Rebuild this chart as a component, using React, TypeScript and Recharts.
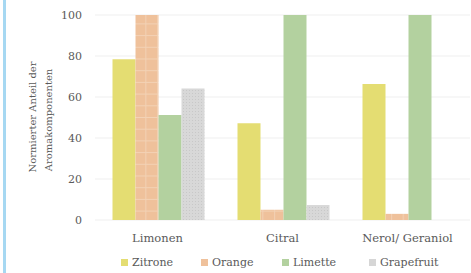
import React from "react";
import { BarChart, Bar, XAxis, YAxis, CartesianGrid } from "recharts";

const categories = ["Limonen", "Citral", "Nerol/ Geraniol"];
const zitrone = [78.4, 47.2, 66.3];
const orange = [100, 5, 3];
const limette = [51.2, 100, 100];
const grapefruit = [64.2, 7.3, 0];
const yTicks = [0, 20, 40, 60, 80, 100];
const seriesNames = ["Zitrone", "Orange", "Limette", "Grapefruit"];
const seriesColors = ["#e4dd72", "#efc19b", "#b3d19f", "#d6d6d6"];

const data = categories.map((c, i) => ({
  name: c,
  Zitrone: zitrone[i],
  Orange: orange[i],
  Limette: limette[i],
  Grapefruit: grapefruit[i],
}));

const FONT = "'DejaVu Serif', serif";
const TXT = "#5a5a5a";

const legendX = [121, 201, 282, 369];

const YLabel = () => (
  <g>
    <text
      transform="translate(36,117) rotate(-90)"
      textAnchor="middle"
      fontFamily={FONT}
      fontSize={10}
      fill={TXT}
    >
      Normierter Anteil der
    </text>
    <text
      transform="translate(52,120) rotate(-90)"
      textAnchor="middle"
      fontFamily={FONT}
      fontSize={10}
      fill={TXT}
    >
      Aromakomponenten
    </text>
  </g>
);

export default function App() {
  return (
    <div style={{ position: "absolute", left: 0, top: 0, width: 471, height: 273, background: "#fff" }}>
      <div style={{ position: "absolute", left: 3, top: 0, width: 3, height: 273, background: "#a6d8f2" }} />
      <div style={{ position: "absolute", left: 0, top: 0 }}>
        <BarChart
          width={471}
          height={273}
          data={data}
          margin={{ top: 15, right: 1, bottom: 23, left: 0 }}
          barCategoryGap="14%"
          barGap={0}
        >
          <defs>
            <pattern id="orangeHatch" width="11.7" height="11.7" patternUnits="userSpaceOnUse">
              <rect width="11.7" height="11.7" fill="#efc19b" />
              <line x1="0" y1="0.5" x2="11.7" y2="0.5" stroke="#f3d2b5" strokeWidth="1" />
              <line x1="5.5" y1="0" x2="5.5" y2="11.7" stroke="#f3d2b5" strokeWidth="1" />
            </pattern>
            <pattern id="grayDots" width="3" height="3" patternUnits="userSpaceOnUse">
              <rect width="3" height="3" fill="#d8d8d8" />
              <rect width="1" height="1" fill="#c8c8c8" />
            </pattern>
          </defs>
          <CartesianGrid horizontal vertical={false} stroke="#efefef" strokeWidth={1} />
          <XAxis
            dataKey="name"
            axisLine={false}
            tickLine={false}
            tickMargin={8}
            tick={{ fontFamily: FONT, fontSize: 11.5, fill: TXT }}
          />
          <YAxis
            width={95}
            domain={[0, 100]}
            ticks={yTicks}
            axisLine={false}
            tickLine={false}
            tickMargin={7}
            tick={{ fontFamily: FONT, fontSize: 11, fill: TXT }}
          />
          <Bar dataKey="Zitrone" fill={seriesColors[0]} isAnimationActive={false} />
          <Bar dataKey="Orange" fill="url(#orangeHatch)" isAnimationActive={false} />
          <Bar dataKey="Limette" fill={seriesColors[2]} isAnimationActive={false} />
          <Bar dataKey="Grapefruit" fill="url(#grayDots)" isAnimationActive={false} />
          <YLabel />
        </BarChart>
      </div>
      {seriesNames.map((n, i) => (
        <div
          key={n}
          style={{
            position: "absolute",
            left: legendX[i],
            top: 256,
            display: "flex",
            alignItems: "center",
            fontFamily: FONT,
            fontSize: 11,
            color: TXT,
            whiteSpace: "nowrap",
          }}
        >
          <span style={{ display: "inline-block", width: 7, height: 7, background: seriesColors[i], marginRight: 4 }} />
          {n}
        </div>
      ))}
    </div>
  );
}
